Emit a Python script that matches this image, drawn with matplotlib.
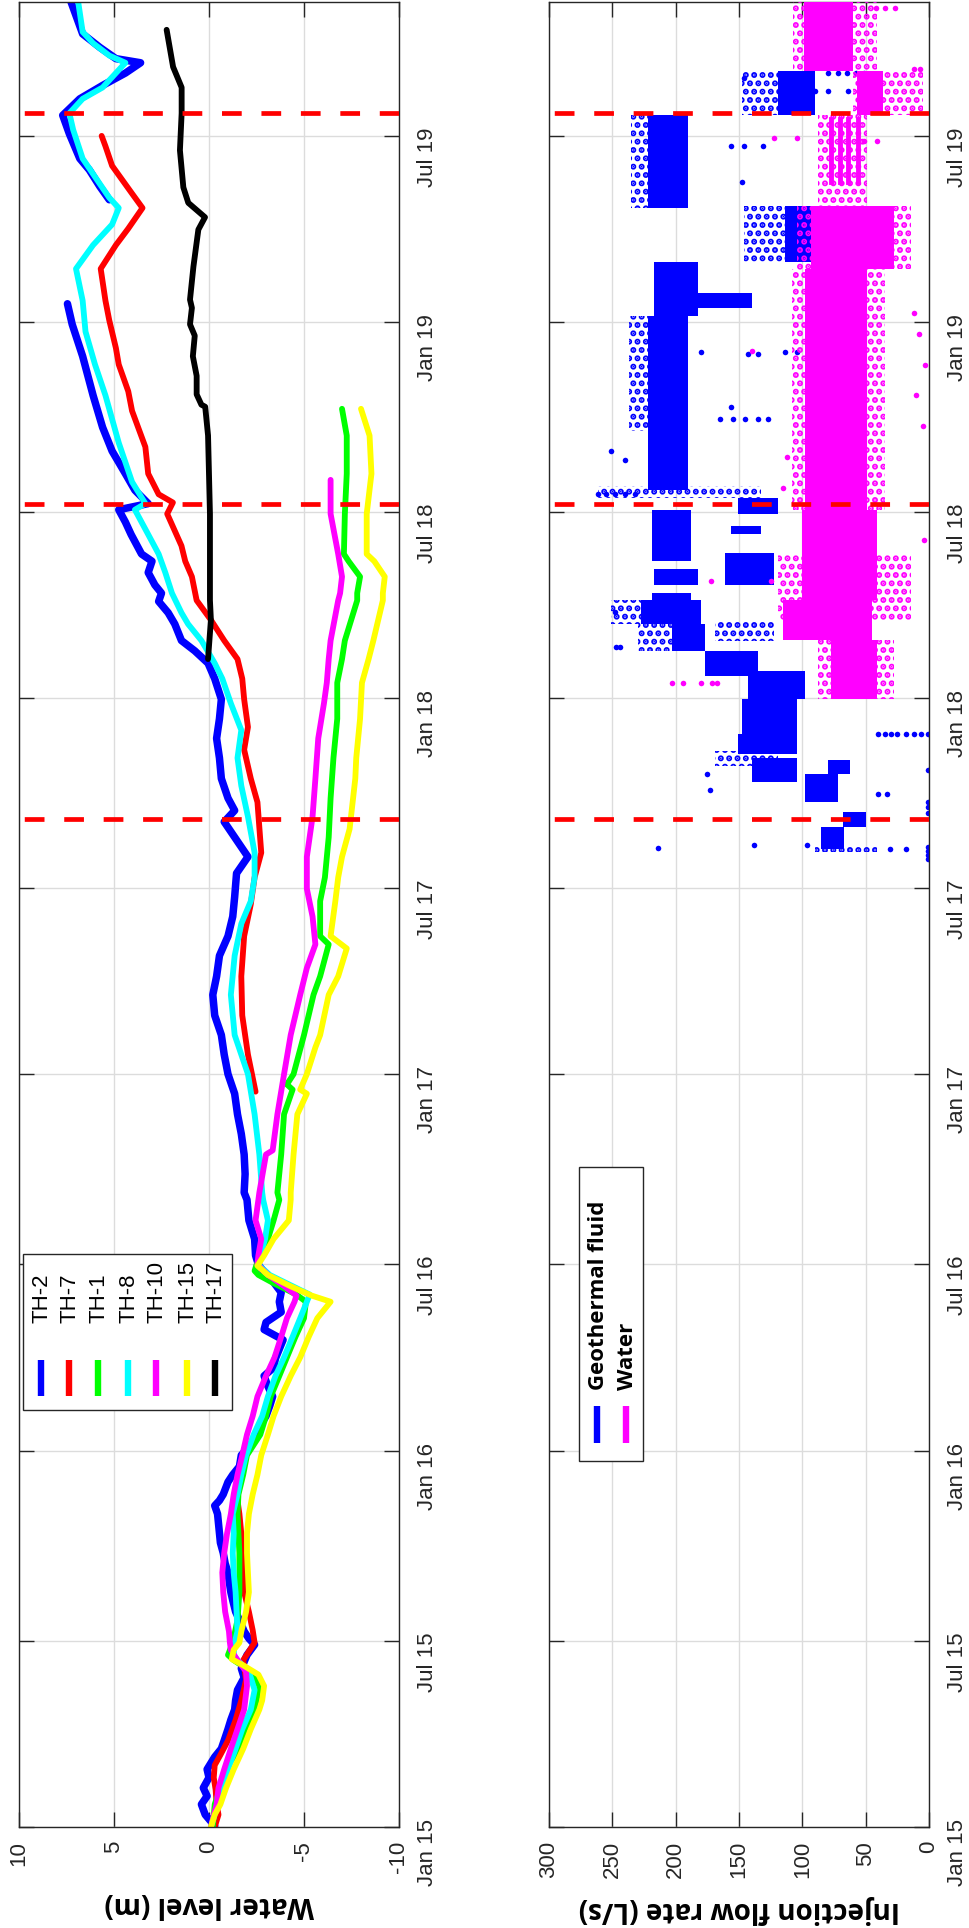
import numpy as np
import matplotlib
matplotlib.use("Agg")
import matplotlib.pyplot as plt
import matplotlib.dates as mdates
from matplotlib.patches import Rectangle

nan = np.nan

# ---------------- data: days since 2015-01-01 ----------------
TH2_DAY = [1,12,22,30,38,48,56,68,76,84,95,104,114,123,133,145,154,167,177,183,
           190,201,209,220,228,240,247,256,266,276,285,294,304,312,317,323,335,342,350,361,
           373,381,390,399,409,418,428,438,446,455,464,473,483,490,500,510,519,529,539,546,
           555,571,589,609,616,634,653,673,692,712,731,750,769,788,808,826,846,865,884,903,
           926,942,961,976,987,999,1018,1038,1057,1076,1095,1115,1130,1142,1152,1168,1179,1190,1198,1206,
           1218,1229,1236,1255,1267,1279,1285,1298,1314,1336,1359,1390,1428,1459,1479,1530,1580,1593,1609,1620,
           1644,1662,1678,1691,1703,1713,1717,1728,1741,1774]
TH2_LEV = [-0.3,0.2,0.4,0.1,0.3,0.0,0.1,-0.3,-0.65,-0.8,-1.0,-1.15,-1.35,-1.4,-1.5,-1.85,-1.7,-2.0,-2.4,-2.1,
           -1.85,-1.6,-1.4,-1.25,-1.15,-1.05,-1.0,-0.85,-0.75,-0.6,-0.55,-0.5,-0.45,-0.3,-0.55,-0.75,-1.0,-1.25,-1.6,-1.7,
           -2.3,-2.55,-2.7,-3.0,-3.2,-3.35,-3.1,-2.9,-3.4,-3.5,-3.7,-3.9,-2.9,-3.0,-3.8,-3.7,-3.8,-3.4,-2.9,-2.6,
           -2.45,-2.4,-2.1,-2.0,-1.85,-1.9,-1.85,-1.7,-1.5,-1.35,-1.0,-0.8,-0.65,-0.3,-0.2,-0.4,-0.55,-1.0,-1.25,-1.35,
           -1.45,-2.05,-1.35,-0.8,-1.35,-1.0,-0.65,-0.55,-0.4,-0.55,-0.65,-0.3,0.05,0.75,1.45,1.8,2.15,2.65,2.5,2.85,
           3.2,3.0,3.55,4.1,4.4,4.75,3.2,3.9,4.4,5.1,5.6,6.1,6.65,7.2,7.45,nan,5.25,5.75,6.3,6.8,
           7.35,7.7,6.8,5.6,4.4,3.6,4.9,5.75,6.65,7.3]

TH7_DAY = [0,12,22,36,48,60,70,84,104,123,143,162,179,191,209,228,247,266,285,304,
           317,327,500,714,750,788,826,865,896,922,946,995,1018,1046,1068,1095,1115,1134,1152,1172,
           1191,1214,1229,1244,1275,1286,1294,1314,1340,1375,1394,1420,1436,1463,1482,1513,1536,1552,1572,1586,
           1613,1632,1642]
TH7_LEV = [-0.3,-0.5,-0.4,-0.35,-0.25,-0.3,-0.6,-1.0,-1.4,-1.7,-1.95,-1.8,-2.4,-2.3,-2.1,-1.85,-1.8,-1.75,-1.7,-1.6,
           -1.5,-1.45,nan,-2.45,-2.05,-1.75,-1.7,-1.85,-2.2,-2.4,-2.75,-2.55,-2.2,-1.85,-2.05,-1.85,-1.75,-1.5,-0.8,-0.1,
           0.65,0.9,1.25,1.45,2.2,1.9,2.65,3.2,3.35,4.05,4.25,4.75,4.9,5.25,5.45,5.7,4.9,4.25,3.5,4.05,
           5.1,5.45,5.65]

TH1_DAY = [0,22,38,56,76,95,114,137,151,162,167,179,201,228,266,304,323,342,361,381,
           399,418,438,456,476,494,510,517,528,536,540,546,555,571,589,609,616,653,692,716,
           721,731,769,808,826,857,865,899,922,961,999,1038,1076,1111,1134,1152,1191,1198,1214,1229,
           1236,1275,1314,1351,1377]
TH1_LEV = [-0.2,-0.3,-0.6,-0.85,-1.6,-1.9,-2.4,-2.65,-2.2,-1.3,-1.0,-1.25,-1.5,-1.6,-1.6,-1.5,-1.55,-1.8,-2.0,-2.7,
           -3.0,-3.25,-3.7,-4.1,-4.55,-5.0,-5.1,-4.6,-3.4,-2.6,-2.4,-2.5,-2.8,-3.1,-3.4,-3.7,-3.6,-3.8,-3.95,-4.4,
           -4.1,-4.45,-5.0,-5.5,-5.85,-6.3,-5.85,-5.85,-6.1,-6.3,-6.4,-6.55,-6.75,-6.75,-7.0,-7.15,-7.8,-7.8,-7.95,-7.35,
           -7.1,-7.15,-7.25,-7.25,-7.0]

TH8_DAY = [0,12,38,56,76,95,114,133,151,162,167,179,190,209,228,247,266,285,304,323,
           342,361,381,399,418,438,456,476,494,510,517,526,536,546,555,571,589,609,616,653,
           692,731,769,808,846,877,899,922,946,981,1011,1038,1065,1091,1115,1130,1152,1168,1179,1198,
           1218,1236,1255,1279,1285,1306,1344,1390,1420,1452,1482,1513,1536,1556,1572,1582,1605,1620,1648,1664,
           1678,1689,1713,1720,1732,1743,1774]
TH8_LEV = [-0.1,-0.3,-0.7,-1.0,-1.4,-1.75,-2.2,-2.4,-2.1,-1.5,-1.3,-1.35,-1.5,-1.45,-1.4,-1.3,-1.25,-1.3,-1.25,-1.5,
           -1.7,-1.95,-2.35,-2.8,-3.1,-3.5,-3.95,-4.4,-4.8,-5.15,-5.3,-4.3,-3.2,-2.6,-2.7,-2.95,-3.1,-2.85,-2.8,-2.65,
           -2.4,-2.05,-1.35,-1.15,-1.35,-1.7,-2.2,-2.4,-2.4,-2.05,-1.7,-1.5,-1.7,-1.15,-0.7,-0.3,0.4,1.1,1.45,1.95,
           2.3,2.65,3.2,3.9,3.35,4.05,4.75,5.45,6.0,6.5,6.65,7.0,6.1,5.1,4.75,5.25,6.1,6.65,7.15,7.35,
           6.65,5.6,4.4,5.25,6.1,6.65,6.9]

TH10_DAY = [0,22,38,56,76,95,114,137,151,162,172,179,190,209,228,247,266,285,304,323,
            342,361,381,399,418,438,456,476,494,510,516,526,536,546,555,571,589,609,616,653,
            657,692,731,769,808,834,857,884,911,942,981,1018,1057,1091,1111,1134,1152,1191,1198,1214,
            1236,1275,1308]
TH10_LEV = [-0.1,-0.4,-0.5,-0.8,-1.15,-1.5,-1.85,-2.0,-1.95,-1.5,-1.15,-1.1,-1.05,-0.85,-0.75,-0.7,-0.8,-0.95,-1.15,-1.3,
            -1.5,-1.75,-2.0,-2.3,-2.55,-3.0,-3.45,-3.8,-4.1,-4.5,-4.6,-3.9,-3.1,-2.55,-2.6,-2.75,-2.45,-2.6,-2.65,-3.0,
            -3.35,-3.6,-3.95,-4.3,-4.8,-5.15,-5.6,-5.45,-5.15,-5.15,-5.45,-5.6,-5.75,-6.05,-6.2,-6.3,-6.4,-6.8,-6.9,-7.0,
            -6.8,-6.4,-6.4]

TH15_DAY = [0,12,22,38,56,76,95,114,123,137,148,157,163,172,179,190,209,228,247,266,
            285,304,323,342,361,381,399,418,438,456,476,494,510,516,525,536,545,555,571,589,
            609,616,653,692,712,716,731,757,769,808,826,853,865,899,922,942,969,1018,1038,1076,
            1111,1134,1152,1191,1198,1214,1229,1236,1275,1314,1351,1377]
TH15_LEV = [-0.1,-0.3,-0.6,-0.9,-1.3,-1.8,-2.2,-2.65,-2.8,-2.9,-2.6,-1.8,-1.2,-1.3,-1.6,-1.7,-1.95,-2.1,-2.05,-2.0,
            -2.0,-2.1,-2.3,-2.55,-2.75,-3.1,-3.4,-3.8,-4.3,-4.8,-5.25,-5.7,-6.4,-5.4,-4.3,-3.1,-2.55,-2.9,-3.4,-4.2,
            -4.3,-4.3,-4.45,-4.65,-5.15,-4.8,-5.15,-5.6,-5.85,-6.3,-6.8,-7.25,-6.4,-6.65,-6.8,-7.0,-7.4,-7.7,-7.75,-7.95,
            -8.05,-8.4,-8.65,-9.15,-9.15,-9.25,-8.7,-8.3,-8.3,-8.55,-8.45,-8.0]

TH17_DAY = [1134,1172,1191,1275,1351,1379,1381,1391,1409,1428,1448,1459,1475,1483,1515,1551,1563,1577,1592,1628,
            1664,1689,1709,1745]
TH17_LEV = [0.05,-0.1,-0.05,-0.05,0.05,0.2,0.4,0.65,0.65,0.85,0.75,1.0,0.9,1.0,0.82,0.56,0.21,1.09,1.35,1.53,
            1.44,1.44,1.89,2.23]

WELL_NAMES = ['TH-2', 'TH-7', 'TH-1', 'TH-8', 'TH-10', 'TH-15', 'TH-17']
WELL_COLORS = ['#0000ff', '#ff0000', '#00ff00', '#00ffff', '#ff00ff', '#ffff00', '#000000']

EVENT_DAYS = [979, 1285, 1664]

# Injection: dense clusters (day start, day end, flow low, flow high), L/s
GEO_D0 = [950, 971, 995, 1015, 1022, 1042, 1061, 1095, 1118, 1142, 1168, 1172, 1206, 1206, 1229, 1255, 1275, 1298, 1467, 1475, 1520, 1572, 1662]
GEO_D1 = [971, 986, 1022, 1038, 1036, 1061, 1095, 1122, 1142, 1168, 1191, 1198, 1221, 1237, 1279, 1263, 1290, 1467, 1520, 1489, 1574, 1662, 1705]
GEO_LO = [67, 50, 72, 104, 62, 104, 104, 98, 135, 177, 180, 188, 182, 122, 188, 133, 119, 190, 182, 140, 85, 190, 90]
GEO_HI = [85, 68, 98, 140, 80, 151, 148, 143, 177, 203, 227, 219, 217, 161, 219, 156, 151, 222, 217, 182, 114, 222, 119]
# sparse clusters
GEO_S_D0 = [947, 1030, 1142, 1168, 1152, 1290, 1355, 1520, 1572, 1662]
GEO_S_D1 = [953, 1045, 1168, 1191, 1172, 1302, 1467, 1574, 1662, 1705]
GEO_S_LO = [41, 119, 203, 227, 122, 133, 222, 114, 222, 119]
GEO_S_HI = [90, 169, 230, 251, 169, 261, 237, 146, 235, 148]
# isolated points
GEO_PT_DAY = [951, 953, 940, 944, 948, 952, 985, 990, 995, 1026, 1061, 1061, 1061, 1061, 1061, 1061, 1061, 1061,
              1003, 1003, 950, 950, 953, 1022, 1007, 1180, 1146, 1146, 1294, 1294, 1294, 1294, 1294, 1336, 1327,
              1367, 1367, 1367, 1367, 1367, 1379, 1432, 1430, 1430, 1432, 1432, 1597, 1632, 1632, 1632,
              1703, 1703, 1703, 1703, 1703, 1686, 1686, 1686, 1698]
GEO_PT_Q = [214, 138, 1, 1, 1, 1, 1, 1, 1, 1, 40, 35, 30, 25, 18, 12, 6, 1,
            40, 33, 31, 18, 96, 175, 173, 248, 247, 244, 261, 255, 248, 240, 232, 251, 240,
            165, 155, 145, 135, 127, 156, 180, 143, 135, 114, 104, 148, 156, 146, 131,
            80, 72, 65, 58, 51, 90, 80, 64, 146]

WAT_D0 = [1095, 1153, 1191, 1279, 1513, 1662, 1705]
WAT_D1 = [1153, 1191, 1279, 1513, 1574, 1705, 1774]
WAT_LO = [41, 45, 41, 49, 28, 36, 60]
WAT_HI = [77, 115, 100, 98, 93, 57, 99]
WAT_S_D0 = [1095, 1172, 1279, 1513, 1574, 1662, 1705]
WAT_S_D1 = [1153, 1236, 1513, 1574, 1662, 1705, 1774]
WAT_S_LO = [28, 14, 35, 14, 49, 5, 41]
WAT_S_HI = [88, 119, 108, 104, 88, 60, 107]
WAT_STRIPE_Q = [77, 70, 64, 56]
WAT_STRIPE_D0 = [1597, 1597, 1597, 1597]
WAT_STRIPE_D1 = [1658, 1658, 1658, 1658]
WAT_PT_DAY = [1111, 1111, 1111, 1111, 1111, 1640, 1640, 1637, 1637, 1707, 1707, 1433, 1210, 1210,
              1360, 1390, 1420, 1450, 1470, 1766, 1766, 1766, 1250, 1300, 1330]
WAT_PT_Q = [203, 194, 180, 171, 167, 122, 104, 51, 41, 12, 7, 140, 172, 125,
            5, 10, 3, 8, 12, 42, 35, 27, 4, 115, 112]

INJ_NAMES = ['Geothermal fluid', 'Water']
INJ_COLORS = ['#0000ff', '#ff00ff']

# ---------------- figure ----------------
plt.rcParams['axes.unicode_minus'] = False
plt.rcParams['lines.scale_dashes'] = False
plt.rcParams['hatch.linewidth'] = 3.0
plt.rcParams['font.family'] = ['Liberation Sans', 'DejaVu Sans']

GRAY = '#262626'
BASE = mdates.date2num(np.datetime64('2015-01-01'))
T_END = 1772


def tt(days):
    return BASE + np.asarray(days, dtype=float)


W, H = 970, 1928
fig = plt.figure(figsize=(W / 100, H / 100), dpi=100)


def rect(x0, y0, x1, y1):
    return [x0 / W, 1 - y1 / H, (x1 - x0) / W, (y1 - y0) / H]


axL = fig.add_axes(rect(19, 2, 399, 1827))
axR = fig.add_axes(rect(549, 2, 929, 1827))


def style(ax, xlim, xticks, xlabels, xlabel):
    ax.set_xlim(*xlim)
    ax.set_ylim(tt(0), tt(T_END))
    ax.set_xticks(xticks)
    ax.set_xticklabels(xlabels, rotation=90, fontsize=16, color=GRAY)
    ax.yaxis.set_major_locator(mdates.MonthLocator(bymonth=[1, 7]))
    ax.yaxis.set_major_formatter(mdates.DateFormatter('%b %y'))
    ax.tick_params(axis='y', labelleft=False, labelright=True, labelrotation=90,
                   labelsize=16, labelcolor=GRAY, pad=13)
    ax.tick_params(axis='x', pad=10)
    ax.tick_params(which='both', direction='in', top=True, bottom=True, left=True,
                   right=True, length=11, width=1, color=GRAY)
    ax.grid(True, color='#dcdcdc', linewidth=1.0)
    ax.set_axisbelow(True)
    for s in ax.spines.values():
        s.set_color(GRAY)
        s.set_linewidth(1.0)
    ax.set_xlabel(xlabel, rotation=180, fontfamily='Open Sans', fontweight='bold',
                  fontsize=20, labelpad=12, color='black')


# ----- left panel -----
style(axL, (10, -10), [10, 5, 0, -5, -10], ['10', '5', '0', '-5', '-10'], 'Water level (m)')
series = [(TH2_DAY, TH2_LEV), (TH7_DAY, TH7_LEV), (TH1_DAY, TH1_LEV), (TH8_DAY, TH8_LEV),
          (TH10_DAY, TH10_LEV), (TH15_DAY, TH15_LEV), (TH17_DAY, TH17_LEV)]
for i, ((d, v), c) in enumerate(zip(series, WELL_COLORS)):
    axL.plot(v, tt(d), color=c, lw=5.4 if i == 0 else 4.2, solid_joinstyle='round',
             solid_capstyle='round', zorder=2 + i * 0.01)
for d in EVENT_DAYS:
    axL.plot([-10, 10], [tt(d), tt(d)], color='#ff0000', lw=3.4, dashes=(14.2, 14.2), zorder=4)

axL.add_patch(Rectangle((0.0105, 0.2285), 0.55, 0.0855, transform=axL.transAxes,
                        facecolor='white', edgecolor=GRAY, lw=1.0, zorder=5))
leg_x = [0.057, 0.131, 0.207, 0.286, 0.360, 0.441, 0.515]
for x, c, n in zip(leg_x, WELL_COLORS, WELL_NAMES):
    axL.plot([x, x], [0.236, 0.256], transform=axL.transAxes, color=c, lw=4.6,
             solid_capstyle='butt', zorder=6)
    axL.text(x + 0.003, 0.276, n, rotation=90, ha='center', va='bottom',
             transform=axL.transAxes, fontsize=16, color='black', zorder=6)

# ----- right panel -----
style(axR, (300, 0), [300, 250, 200, 150, 100, 50, 0],
      ['300', '250', '200', '150', '100', '50', '0'], 'Injection flow rate (L/s)')


def draw_inj(ax, c, d0s, d1s, los, his, sd0, sd1, slo, shi, pd, pq, z):
    for a, b, lo, hi in zip(sd0, sd1, slo, shi):
        ax.fill_betweenx(tt([a, b]), [lo, lo], [hi, hi], facecolor='none', edgecolor=c,
                         hatch='..', linewidth=0, zorder=z)
    for a, b, lo, hi in zip(d0s, d1s, los, his):
        ax.fill_betweenx(tt([a, b]), [lo, lo], [hi, hi], color=c, linewidth=0, zorder=z + 0.1)
    ax.plot(pq, tt(pd), 'o', ms=4.0, mew=0, color=c, zorder=z + 0.2)


draw_inj(axR, INJ_COLORS[0], GEO_D0, GEO_D1, GEO_LO, GEO_HI, GEO_S_D0, GEO_S_D1,
         GEO_S_LO, GEO_S_HI, GEO_PT_DAY, GEO_PT_Q, 2)
draw_inj(axR, INJ_COLORS[1], WAT_D0, WAT_D1, WAT_LO, WAT_HI, WAT_S_D0, WAT_S_D1,
         WAT_S_LO, WAT_S_HI, WAT_PT_DAY, WAT_PT_Q, 3)
for q, a, b in zip(WAT_STRIPE_Q, WAT_STRIPE_D0, WAT_STRIPE_D1):
    axR.plot([q, q], tt([a, b]), color=INJ_COLORS[1], lw=3.5, zorder=3.3)
for d in EVENT_DAYS:
    axR.plot([0, 300], [tt(d), tt(d)], color='#ff0000', lw=3.4, dashes=(14.2, 14.2), zorder=4)

axR.add_patch(Rectangle((0.079, 0.2005), 0.168, 0.161, transform=axR.transAxes,
                        facecolor='white', edgecolor=GRAY, lw=1.0, zorder=5))
for x, c, n in zip([0.126, 0.203], INJ_COLORS, INJ_NAMES):
    axR.plot([x, x], [0.2104, 0.2307], transform=axR.transAxes, color=c, lw=4.6,
             solid_capstyle='butt', zorder=6)
    axR.text(x + 0.003, 0.2395, n, rotation=90, ha='center', va='bottom',
             transform=axR.transAxes, fontsize=16, fontfamily='Open Sans',
             fontweight='bold', color='black', zorder=6)

fig.savefig('out.png', dpi=100)
